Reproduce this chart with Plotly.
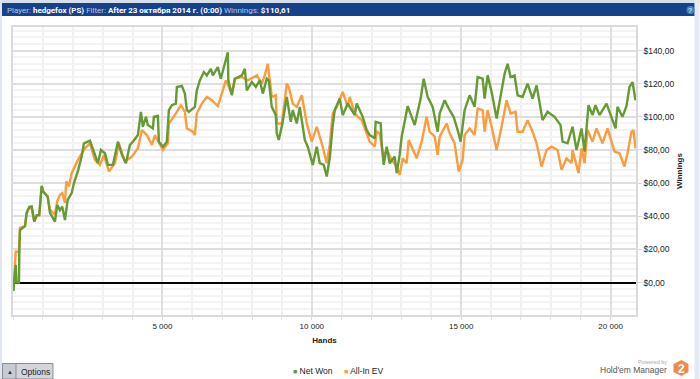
import plotly.graph_objects as go

net_hands = [0,17,33,90,117,200,211,234,401,458,545,625,712,793,879,960,1013,1160,1237,1404,1481,1572,1649,1739,1829,1963,2040,2184,2297,2374,2575,2675,2842,2943,3076,3177,3344,3511,3645,3779,3912,4013,4180,4280,4347,4448,4514,4682,4715,4849,4882,5016,5150,5217,5317,5451,5484,5651,5752,5819,5885,6086,6153,6253,6387,6487,6621,6688,6855,6955,7056,7190,7206,7323,7424,7658,7758,7825,7992,8126,8260,8360,8494,8561,8661,8795,8828,8895,9029,9096,9163,9296,9363,9497,9597,9765,9865,10032,10166,10266,10400,10500,10600,10701,10768,10935,11035,11202,11269,11437,11503,11704,11838,11938,12105,12139,12306,12339,12406,12507,12607,12774,12841,12941,13008,13075,13209,13443,13644,13744,13878,14045,14212,14279,14446,14613,14747,14881,14981,15115,15282,15449,15550,15717,15783,15884,16018,16185,16352,16452,16553,16653,16787,16887,17054,17222,17389,17523,17723,17890,18124,18325,18392,18559,18726,18860,19027,19128,19261,19395,19495,19629,19863,20030,20164,20231,20398,20532,20632,20733,20833]
net_won = [0,-5,0,10.6,0,0,18.6,31.7,34,42,45.7,46,36.7,40.7,40.7,58.4,54.8,51.8,42,36.7,46.8,43.7,45.7,37.7,49.8,54,60,68,76,84,85.6,80,72,80,78,71,71,85,77,72,83,85,89,103,94,100,95,93,100,100.5,85,82,85,104,107,108,118,118.6,114,104,103,106,116,122,127,125,129,125,130,123,130,139,122,113,123,125,129,116,121,118,122,114,123,122,106,101,90,86,97,106,112,97,104,96,106,86,82,71,82,72,71,64,75,95,104,111,101,108,106,101,108,100,92,89,87,97,96,84,71,82,72,76,66,77,88,94,106.5,95,111,123,112,106,91,102,110,104,100,92,85,104,113,106,124,123,111,125,115,99,116,126,132,124,125,113,112,120,111,119,98,103,100,95,85,84,94,80,93,79,107,101,107,101,108,100,93,106,100,106.5,118,121,110]

ev_hands = [0,33,90,200,234,401,458,545,625,712,793,879,960,1013,1160,1237,1404,1481,1572,1649,1739,1782,1872,1963,2174,2407,2575,2742,2909,3043,3210,3411,3545,3745,3979,4180,4314,4481,4648,4748,5016,5183,5217,5417,5618,5752,5819,6019,6086,6153,6320,6487,6655,6855,6989,7123,7323,7424,7658,7858,8160,8327,8427,8527,8661,8795,8828,8995,9096,9163,9229,9363,9497,9664,9832,9999,10166,10333,10500,10600,10701,10835,11035,11202,11269,11437,11671,11838,11938,12105,12172,12272,12373,12540,12674,12841,12941,13041,13175,13242,13376,13510,13677,13844,13944,14112,14212,14279,14513,14613,14781,14915,15048,15115,15282,15449,15550,15717,15783,15884,16018,16185,16352,16452,16519,16653,16820,16887,17054,17222,17389,17523,17690,17857,18024,18225,18358,18525,18692,18726,18927,19027,19128,19228,19395,19529,19729,19896,20131,20298,20465,20565,20699,20766,20833]
all_in_ev = [0,0,18.6,18.6,33,34,42,45,45,37,40,41,58,55,52,44,41,49,53,54,48,61,58,66,74,81,84,74,71,77,67,72,84,73,76,81,92,89,83,89,80,84,96,101,107,103,93,91,89,102,108,112,110,106.5,114,122,114,123,124,122,125,120,125,132,112,113,96,96,110,120,118,108,106,113,96,85,94,84,72,83,102,106,115,106,112,102,98,90,85,82,91,90,78,79,74,70,65,75,72,86,81,75,85,100,91,88,77,88,96,90,84,67,74,89,93,89,105,104,91,104,94,80,94,104,110,102,103,91,91,98,91,84,70,80,82,80,68,75,72,80,66,81,72,92,85,93,84,93,79,78,70,78,91,92,81]

y_ticks = [0,20,40,60,80,100,120,140]
y_labels = ["$0,00","$20,00","$40,00","$60,00","$80,00","$100,00","$120,00","$140,00"]
x_ticks = [5000,10000,15000,20000]
x_labels = ["5 000","10 000","15 000","20 000"]

GREEN = "#659a35"
ORANGE = "#fb9c3e"
FONT = "Liberation Sans"

L, R, T, B = 13, 636.5, 27, 315
def px(X): return (X - L) / (R - L)
def py(Y): return (B - Y) / (B - T)

def rect(x0, y0, x1, y1, fill, line=None):
    return dict(type="rect", xref="paper", yref="paper", x0=px(x0), x1=px(x1), y0=py(y0), y1=py(y1),
                fillcolor=fill, line=dict(color=line or fill, width=1 if line else 0), layer="below")

fig = go.Figure()
fig.add_trace(go.Scatter(x=ev_hands, y=all_in_ev, name="All-in EV", mode="lines",
                         line=dict(color=ORANGE, width=2.4), showlegend=False))
fig.add_trace(go.Scatter(x=net_hands, y=net_won, name="Net Won", mode="lines",
                         line=dict(color=GREEN, width=2.4), showlegend=False))

shapes = [
    rect(0, 0, 700, 3, "#d9dfe8"),
    rect(0, 0, 2, 379, "#dfe6f0"),
    rect(695, 0, 700, 379, "#e4eaf3"),
    rect(2, 3, 695, 16, "#14438c"),
    rect(2.5, 363.5, 53, 379, "#d4d6dc", "#8a8c94"),
    rect(2.5, 363.5, 16, 379, "#c8cad2", "#8a8c94"),
    dict(type="circle", xref="paper", yref="paper", layer="above", fillcolor="#3d86b8", line=dict(width=0),
         x0=px(687), x1=px(695), y0=py(6), y1=py(14)),
    dict(type="path", xref="paper", yref="paper", layer="above", fillcolor="#f08a4b", line=dict(width=0),
         path="M {} {} L {} {} L {} {} L {} {} L {} {} L {} {} Z".format(
             px(682), py(360), px(689), py(364), px(689), py(372), px(682), py(376), px(674), py(372), px(674), py(364))),
]

def ann(text, X, Y, size, color="#222222", xanchor="left", family=FONT, **kw):
    return dict(text=text, x=px(X), y=py(Y), xref="paper", yref="paper", showarrow=False, xanchor=xanchor,
                yanchor="middle", font=dict(family=family, size=size, color=color), **kw)

lab = "#b9c9e2"
header = (f"<span style='color:{lab}'>Player:</span> <b>hedgefox (PS)</b> "
          f"<span style='color:{lab}'>Filter:</span> <b>After 23 октября 2014 г. (0:00)</b> "
          f"<span style='color:{lab}'>Winnings:</span> <b>$110,61</b>")
annotations = [
    ann(header, 5, 10, 8, "#ffffff", family="Roboto"),
    ann("?", 691, 10, 7, "#ffffff", "center"),
    ann("▲", 9.5, 371.5, 6, "#333333", "center"),
    ann("Options", 19, 372, 8.5, "#222222"),
    ann(f"<span style='color:{GREEN};font-size:7px'>■</span> Net Won", 291, 371, 8.5),
    ann(f"<span style='color:{ORANGE};font-size:7px'>■</span> All-In EV", 342, 371, 8.5),
    ann("Powered by", 670, 361.5, 5.5, "#aaaaaa", "right"),
    ann("Hold'em Manager", 670, 370, 8.5, "#555555", "right"),
    ann("<b>2</b>", 682, 368.5, 12, "#ffffff", "center"),
]

fig.update_layout(
    width=700, height=379, paper_bgcolor="#ffffff", plot_bgcolor="#ffffff",
    margin=dict(l=L, r=700 - R, t=T, b=379 - B, pad=0),
    font=dict(family=FONT, size=8, color="#222222"),
    shapes=shapes, annotations=annotations, showlegend=False,
    xaxis=dict(range=[0, 20850], tickmode="array", tickvals=x_ticks, ticktext=x_labels,
               showgrid=True, gridcolor="#dedede", gridwidth=1.5, zeroline=False,
               ticks="outside", ticklen=3, tickcolor="#d8d8d8", showline=True, linecolor="#dadada", linewidth=1.5,
               mirror=True, tickfont=dict(size=8, color="#222222"),
               title=dict(text="<b>Hands</b>", font=dict(size=8), standoff=7),
               minor=dict(dtick=1000, tick0=0, showgrid=True, gridcolor="#f0f0f0", gridwidth=1.5,
                          ticks="outside", ticklen=3, tickcolor="#e2e2e2")),
    yaxis=dict(range=[-19.6, 154.2], side="right", tickmode="array", tickvals=y_ticks + [-20], ticktext=y_labels + [""],
               showgrid=True, gridcolor="#dedede", gridwidth=1.5, zeroline=True, zerolinecolor="#000000", zerolinewidth=2,
               ticks="outside", ticklen=4, tickcolor="#d8d8d8", showline=True, linecolor="#dadada", linewidth=1.5,
               mirror=True, tickfont=dict(size=8.5, color="#222222"),
               title=dict(text="<b>Winnings</b>", font=dict(size=8), standoff=3),
               minor=dict(dtick=4, tick0=0, showgrid=True, gridcolor="#f3f3f3", gridwidth=1.5, ticks="")),
)

fig.write_html("out.html", config={"displayModeBar": False},
               post_script="document.body.style.margin='0';document.body.style.overflow='hidden';")
